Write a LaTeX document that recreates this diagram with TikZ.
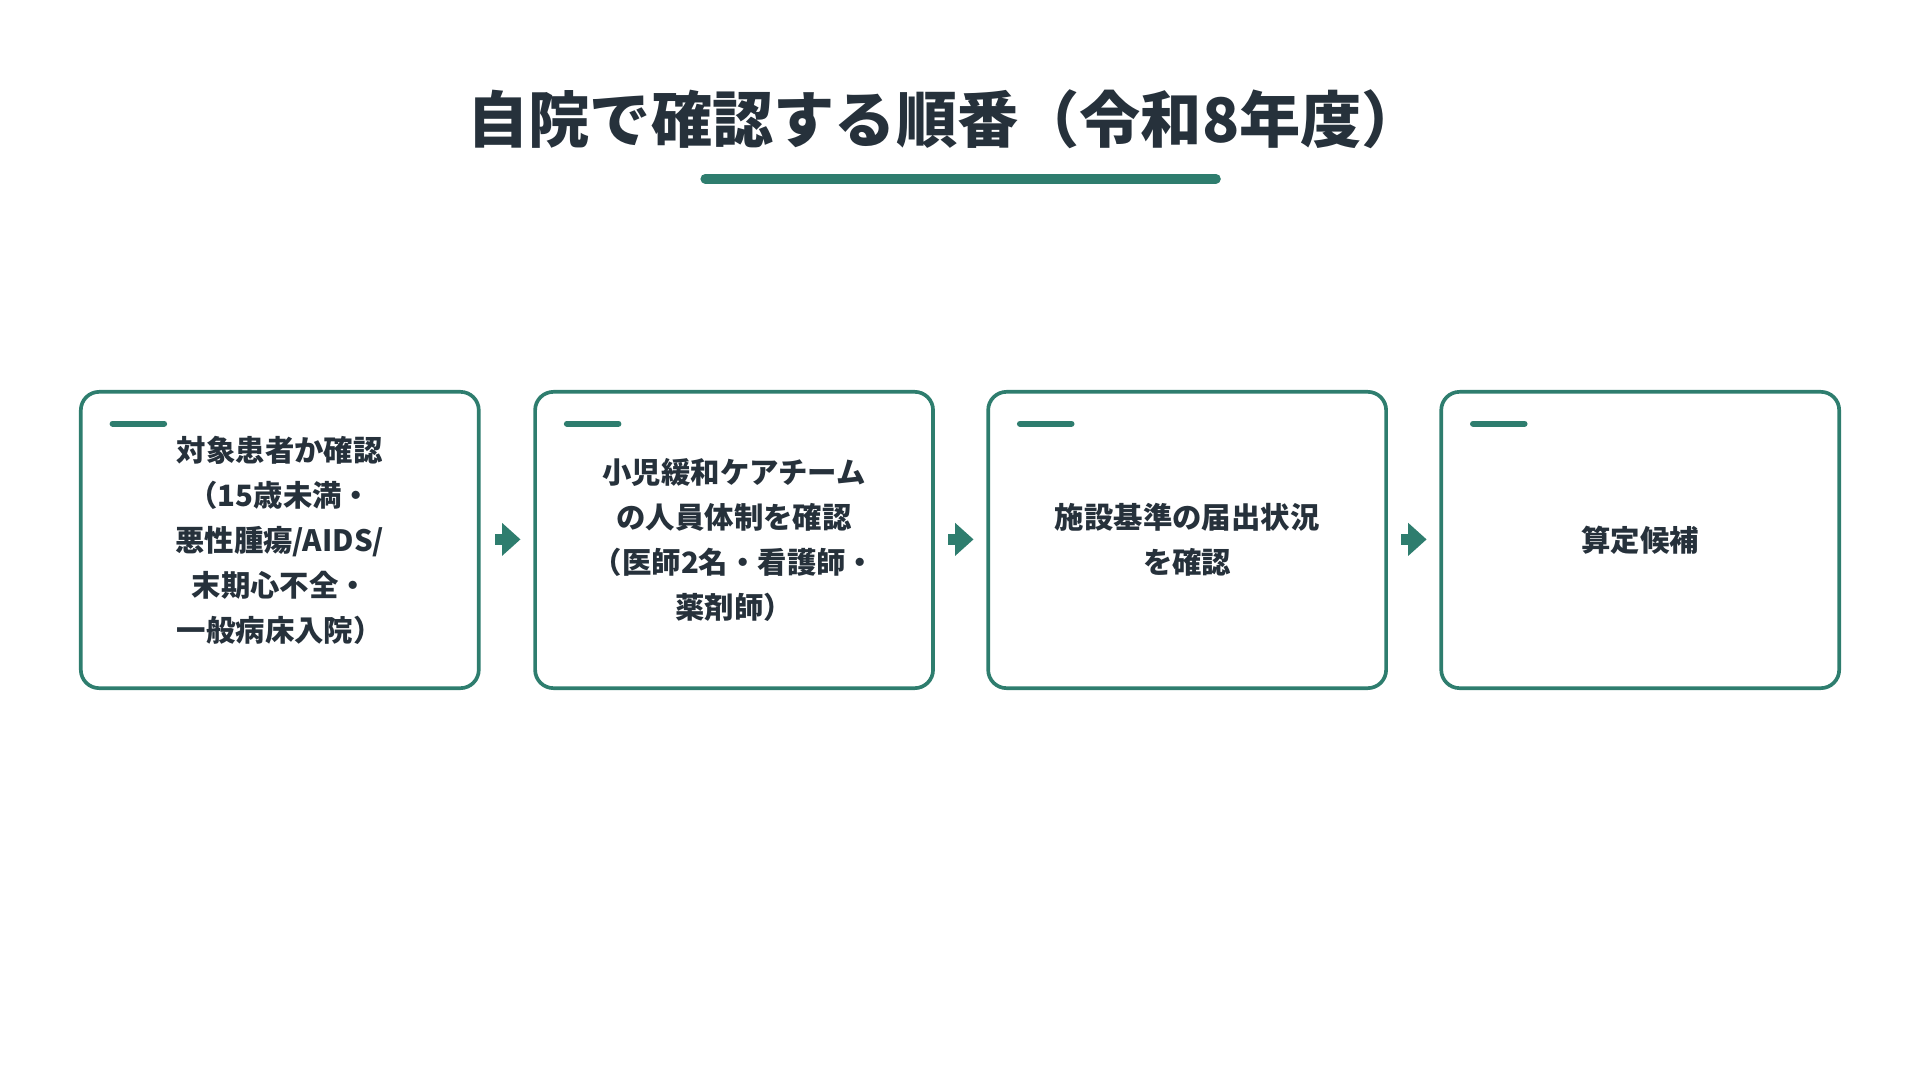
\documentclass[tikz,border=0pt]{standalone}
\usepackage{fontspec}
\setmainfont{Noto Sans CJK JP}
\definecolor{teal}{HTML}{2E7D6E}
\definecolor{ink}{HTML}{26313B}
\begin{document}
\begin{tikzpicture}[x=1pt,y=-1pt,
  box/.style={draw=teal,line width=3pt,rounded corners=15pt,fill=white},
  bar/.style={teal,line width=5pt,line cap=round},
  txt/.style={font=\fontsize{24}{36.7}\selectfont\bfseries,text=ink,align=center},
  arr/.style={fill=teal}]
\useasboundingbox (0,0) rectangle (1568,882);
\node[font=\fontsize{50}{60}\selectfont\bfseries,text=ink] (title) at (772,97) {自院で確認する順番（令和8年度）};
\draw[teal,line width=8pt,line cap=round] (576,146) coordinate (u1) -- (993,146) coordinate (u2);
\foreach \i/\x in {1/66,2/437,3/807,4/1177}{
  \draw[box] (\x,320) rectangle (\x+325,562);
  \coordinate (b\i) at (\x+162.5,441);
  \draw[bar] (\x+26,346) -- (\x+68,346);
}
\node[txt] (t1) at (b1) {対象患者か確認\\（15歳未満・\\悪性腫瘍/AIDS/\\末期心不全・\\一般病床入院）};
\node[txt] (t2) at (b2) {小児緩和ケアチーム\\の人員体制を確認\\（医師2名・看護師・\\薬剤師）};
\node[txt] (t3) at (b3) {施設基準の届出状況\\を確認};
\node[txt] (t4) at (b4) {算定候補};
\foreach \x in {404,774,1144}{
  \fill[arr] (\x,436) rectangle (\x+10,445);
  \fill[arr] (\x+6,427) -- (\x+21,440.5) -- (\x+6,454) -- cycle;
}
\end{tikzpicture}
\end{document}
